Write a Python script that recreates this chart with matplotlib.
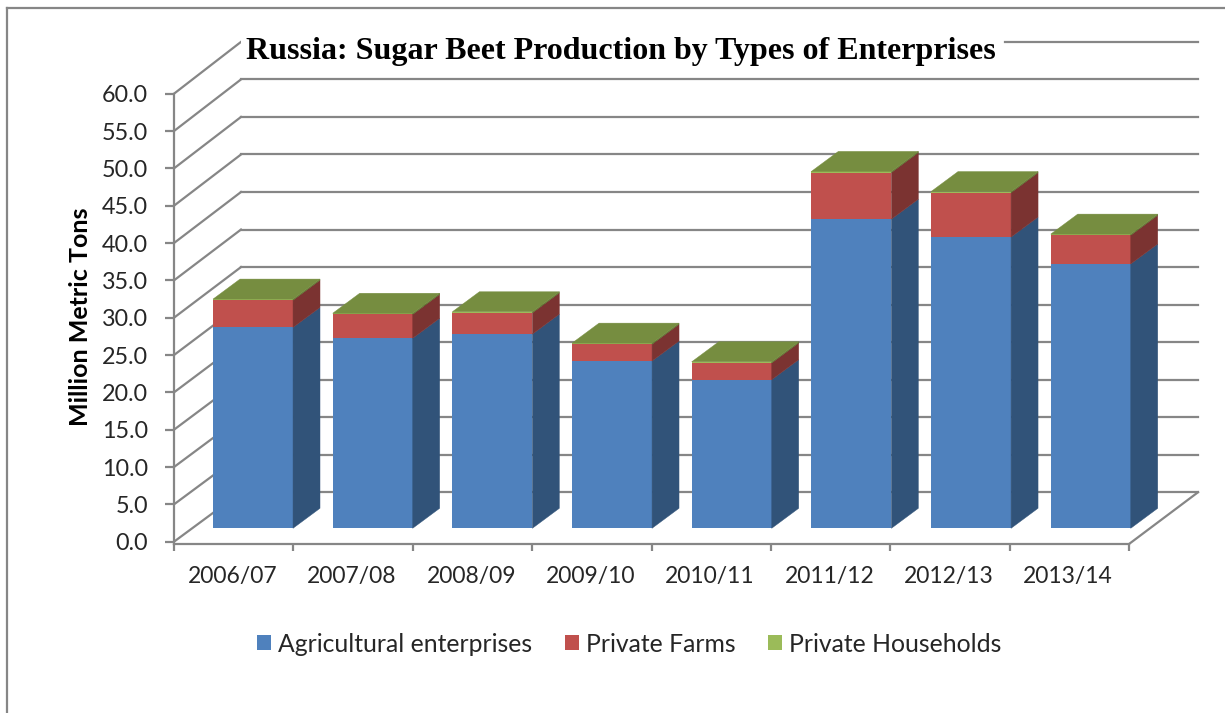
import matplotlib
matplotlib.use('Agg')
import matplotlib.pyplot as plt
from matplotlib.lines import Line2D
from matplotlib.patches import Patch, Polygon

seasons = ['2006/07', '2007/08', '2008/09', '2009/10', '2010/11', '2011/12', '2012/13', '2013/14']
agricultural = [26.9, 25.45, 26.0, 22.4, 19.9, 41.4, 39.0, 35.4]
farms = [3.65, 3.2, 2.85, 2.25, 2.25, 6.25, 5.95, 3.85]
households = [0.15, 0.15, 0.15, 0.15, 0.15, 0.15, 0.15, 0.15]
yticks = [0, 5, 10, 15, 20, 25, 30, 35, 40, 45, 50, 55, 60]

names = ['Agricultural enterprises', 'Private Farms', 'Private Households']
front = ['#4F81BD', '#C0504D', '#9BBB59']
side = ['#315379', '#7B3331', '#5F7530']
top_face = '#768D40'
grid = '#868686'
text = '#262626'

W, H = 1225, 713
plt.rcParams['font.family'] = ['Lato', 'DejaVu Sans']
fig = plt.figure(figsize=(W / 100, H / 100), dpi=100)
ax = fig.add_axes([174 / W, 1 - 541.7 / H, 955 / W, 448 / H])
ax.set_xlim(0, 8)
ax.set_ylim(0, 60)

# fake 3d: the floor and wall are sheared back by this much, in data units
wall_dx = 67 / 119.4
bar_dx = 27 / 119.4
bar_dy = 20 / 7.465
bar_left = 0.327
bar_step = 1.0025
bar_width = 0.67
bar_base = 1.795


def wall_y(v):
    return v * 1.0053 + 6.62


# wall gridlines and the diagonals on the side wall
for v in yticks:
    ax.plot([0, wall_dx], [v, wall_y(v)], color=grid, lw=1.6, clip_on=False, zorder=1)
    # the top line only restarts after the title
    x0 = 6.96 if v == 60 else wall_dx
    ax.plot([x0, 8 + 69 / 119.4], [wall_y(v), wall_y(v)], color=grid, lw=1.6, clip_on=False, zorder=1)
ax.plot([8, 8 + 69 / 119.4], [-0.31, wall_y(0)], color=grid, lw=1.6, clip_on=False, zorder=1)

# stacked bars, front faces first and then the shaded side and top
x = [i * bar_step + bar_left for i in range(len(seasons))]
bottom = [bar_base] * len(seasons)
for vals, name, fc, sc in zip([agricultural, farms, households], names, front, side):
    ax.bar(x, vals, bar_width, bottom=bottom, align='edge', color=fc, zorder=3, clip_on=False)
    for xi, b, v in zip(x, bottom, vals):
        r = xi + bar_width
        ax.add_patch(Polygon([(r, b), (r + bar_dx, b + bar_dy), (r + bar_dx, b + v + bar_dy), (r, b + v)],
                             facecolor=sc, edgecolor=sc, lw=0.3, zorder=3, clip_on=False))
    bottom = [b + v for b, v in zip(bottom, vals)]
for xi, b in zip(x, bottom):
    r = xi + bar_width
    ax.add_patch(Polygon([(xi, b), (r, b), (r + bar_dx, b + bar_dy), (xi + bar_dx, b + bar_dy)],
                         facecolor=top_face, edgecolor=top_face, lw=0.3, zorder=3, clip_on=False))

for s in ['top', 'right']:
    ax.spines[s].set_visible(False)
for s in ['left', 'bottom']:
    ax.spines[s].set_color(grid)
    ax.spines[s].set_linewidth(1.6)
ax.spines['bottom'].set_position(('outward', 1.7))
ax.spines['left'].set_bounds(-0.31, 60)

ax.set_yticks(yticks)
ax.set_yticklabels(['%.1f' % v for v in yticks])
ax.set_xticks(range(len(seasons) + 1))
ax.set_xticklabels([])
ax.set_xticks([i + 0.49 for i in range(len(seasons))], labels=seasons, minor=True)
ax.tick_params(axis='y', length=6.5, width=1.6, color=grid, pad=12, labelsize=16.8, labelcolor=text)
ax.tick_params(axis='x', which='major', length=5, width=1.6, color=grid)
ax.tick_params(axis='x', which='minor', length=0, pad=16, labelsize=16.5, labelcolor=text)

fig.text(81 / W, 1 - 317 / H, 'Million Metric Tons', rotation=90, ha='center', va='center',
         fontsize=18, fontweight='bold', color='black')

fig.text(621 / W, 1 - 52 / H, 'Russia: Sugar Beet Production by Types of Enterprises', ha='center', va='center',
         family='Liberation Serif', fontweight='bold', fontsize=23, color='black',
         bbox=dict(facecolor='white', edgecolor='none', pad=4), zorder=5)

handles = [Patch(facecolor=c, label=n) for c, n in zip(front, names)]
fig.legend(handles=handles, loc='center', bbox_to_anchor=(629 / W, 1 - 644 / H), ncol=3, frameon=False,
           fontsize=17.8, handlelength=0.57, handleheight=0.57, handletextpad=0.28, columnspacing=1.33,
           labelcolor=text)

# chart area border, only the top and left edges show
fig.add_artist(Line2D([7 / W, 7 / W], [0, 1 - 8 / H], color=grid, lw=1.6))
fig.add_artist(Line2D([7 / W, 1], [1 - 8 / H, 1 - 8 / H], color=grid, lw=1.6))

fig.savefig('out.png', dpi=100)
